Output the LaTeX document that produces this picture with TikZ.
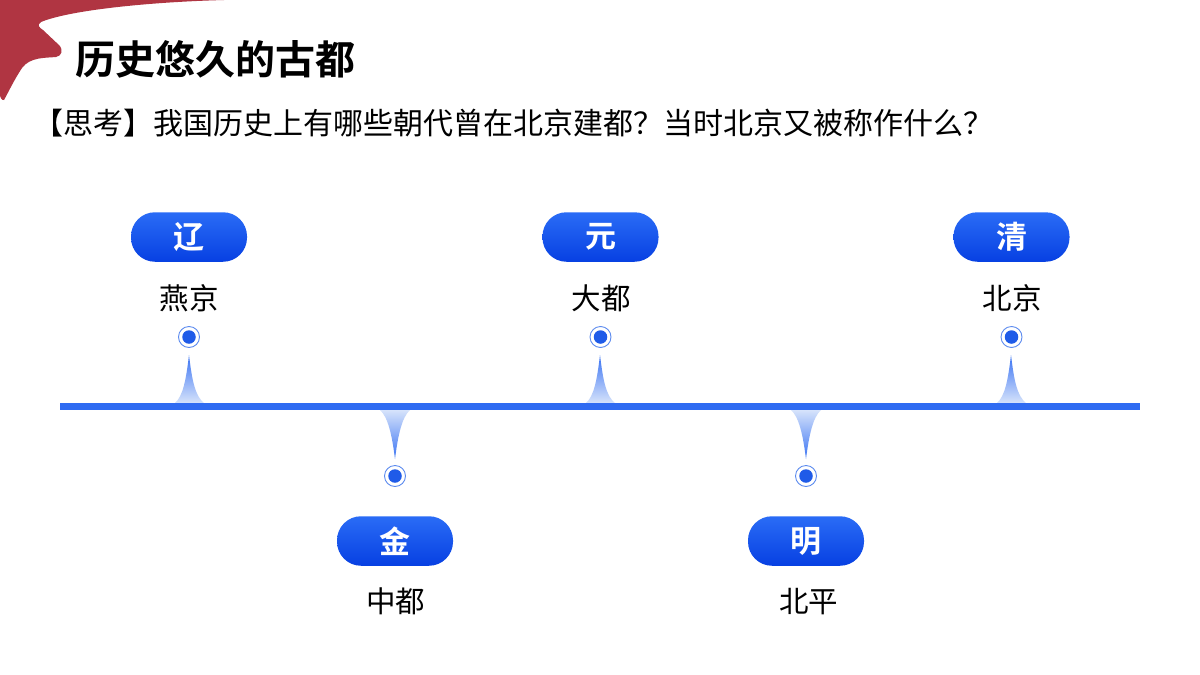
\documentclass[tikz,border=0pt]{standalone}
\usepackage{fontspec}
\setmainfont{Noto Sans CJK SC}
\newfontfamily\cjkbold{Noto Sans CJK SC Bold}
\definecolor{redshape}{HTML}{B03542}
\definecolor{axisblue}{HTML}{2F6BF2}
\definecolor{pilltop}{HTML}{2A6CF6}
\definecolor{pillbot}{HTML}{0740E2}
\definecolor{dotblue}{HTML}{1F5BE8}
\definecolor{ringblue}{HTML}{5C8BEF}
\definecolor{spikepale}{HTML}{D6E3FB}
\tikzset{
  x=1pt,y=-1pt,
  pill/.style={rounded corners=24pt,minimum width=116pt,minimum height=49.5pt,inner sep=0pt,
    top color=pilltop,bottom color=pillbot,draw=none,text=white,font=\cjkbold\fontsize{31}{31}\selectfont},
  citylabel/.style={inner sep=0pt,text=black,font=\fontsize{29.5}{29.5}\selectfont},
  ring/.style={circle,draw=ringblue,line width=0.9pt,fill=white,minimum size=21pt,inner sep=0pt},
  core/.style={circle,fill=dotblue,minimum size=13.5pt,inner sep=0pt},
  axisline/.style={fill=axisblue,draw=none},
}
\begin{document}
\begin{tikzpicture}
\useasboundingbox (0,0) rectangle (1200,675);
\fill[white] (0,0) rectangle (1200,675);
% red corner
\fill[redshape] (0,0) -- (224,0) .. controls (150,2) and (70,10) .. (41,22)
  .. controls (36,25) and (40,28) .. (43,30)
  -- (60,46) .. controls (63,50) and (62,56) .. (56,57)
  .. controls (45,58) and (30,57) .. (22,68)
  .. controls (14,80) and (8,93) .. (4,100)
  .. controls (2,101) and (0,97) .. (0,95) -- cycle;
% title
\node[anchor=west,inner sep=0pt,font=\cjkbold\fontsize{40}{40}\selectfont,text=black] (title) at (75,59) {历史悠久的古都};
\node[anchor=west,inner sep=0pt,font=\fontsize{30}{30}\selectfont,text=black] (question) at (33,123)
  {【思考】我国历史上有哪些朝代曾在北京建都？当时北京又被称作什么？};
% spikes
\shade[top color=axisblue!95,bottom color=spikepale]
  (175,403) .. controls (183,396) and (186,380) .. (189,355) .. controls (192,380) and (195,396) .. (204,403) -- cycle;
\shade[top color=axisblue!95,bottom color=spikepale]
  (586,403) .. controls (594,396) and (597,380) .. (600,355) .. controls (603,380) and (606,396) .. (615,403) -- cycle;
\shade[top color=axisblue!95,bottom color=spikepale]
  (997,403) .. controls (1005,396) and (1008,380) .. (1011,355) .. controls (1014,380) and (1017,396) .. (1026,403) -- cycle;
\shade[top color=spikepale,bottom color=axisblue!95]
  (380,410) .. controls (388,417) and (392,435) .. (395,459) .. controls (398,435) and (402,417) .. (410,410) -- cycle;
\shade[top color=spikepale,bottom color=axisblue!95]
  (791,410) .. controls (799,417) and (803,435) .. (806,459) .. controls (809,435) and (813,417) .. (821,410) -- cycle;
% axis
\fill[axisline] (60,403) rectangle (1140,410);
% pills
\node[pill] (liao) at (189,237) {辽};
\node[pill] (yuan) at (600.5,237) {元};
\node[pill] (qing) at (1011.5,237) {清};
\node[pill] (jin) at (395,541) {金};
\node[pill] (ming) at (806,541) {明};
% city labels
\node[citylabel] (yanjing) at (189,298.5) {燕京};
\node[citylabel] (dadu) at (601,298.5) {大都};
\node[citylabel] (beijing) at (1012,298.5) {北京};
\node[citylabel] (zhongdu) at (395.5,601.5) {中都};
\node[citylabel] (beiping) at (808.5,601.5) {北平};
% dots
\foreach \n/\px/\py in {a/189/337,b/600.5/337,c/1011.5/337,d/395/476,e/806/476}{
  \node[ring] (ring\n) at (\px,\py) {};
  \node[core] (core\n) at (\px,\py) {};
}
\end{tikzpicture}
\end{document}
